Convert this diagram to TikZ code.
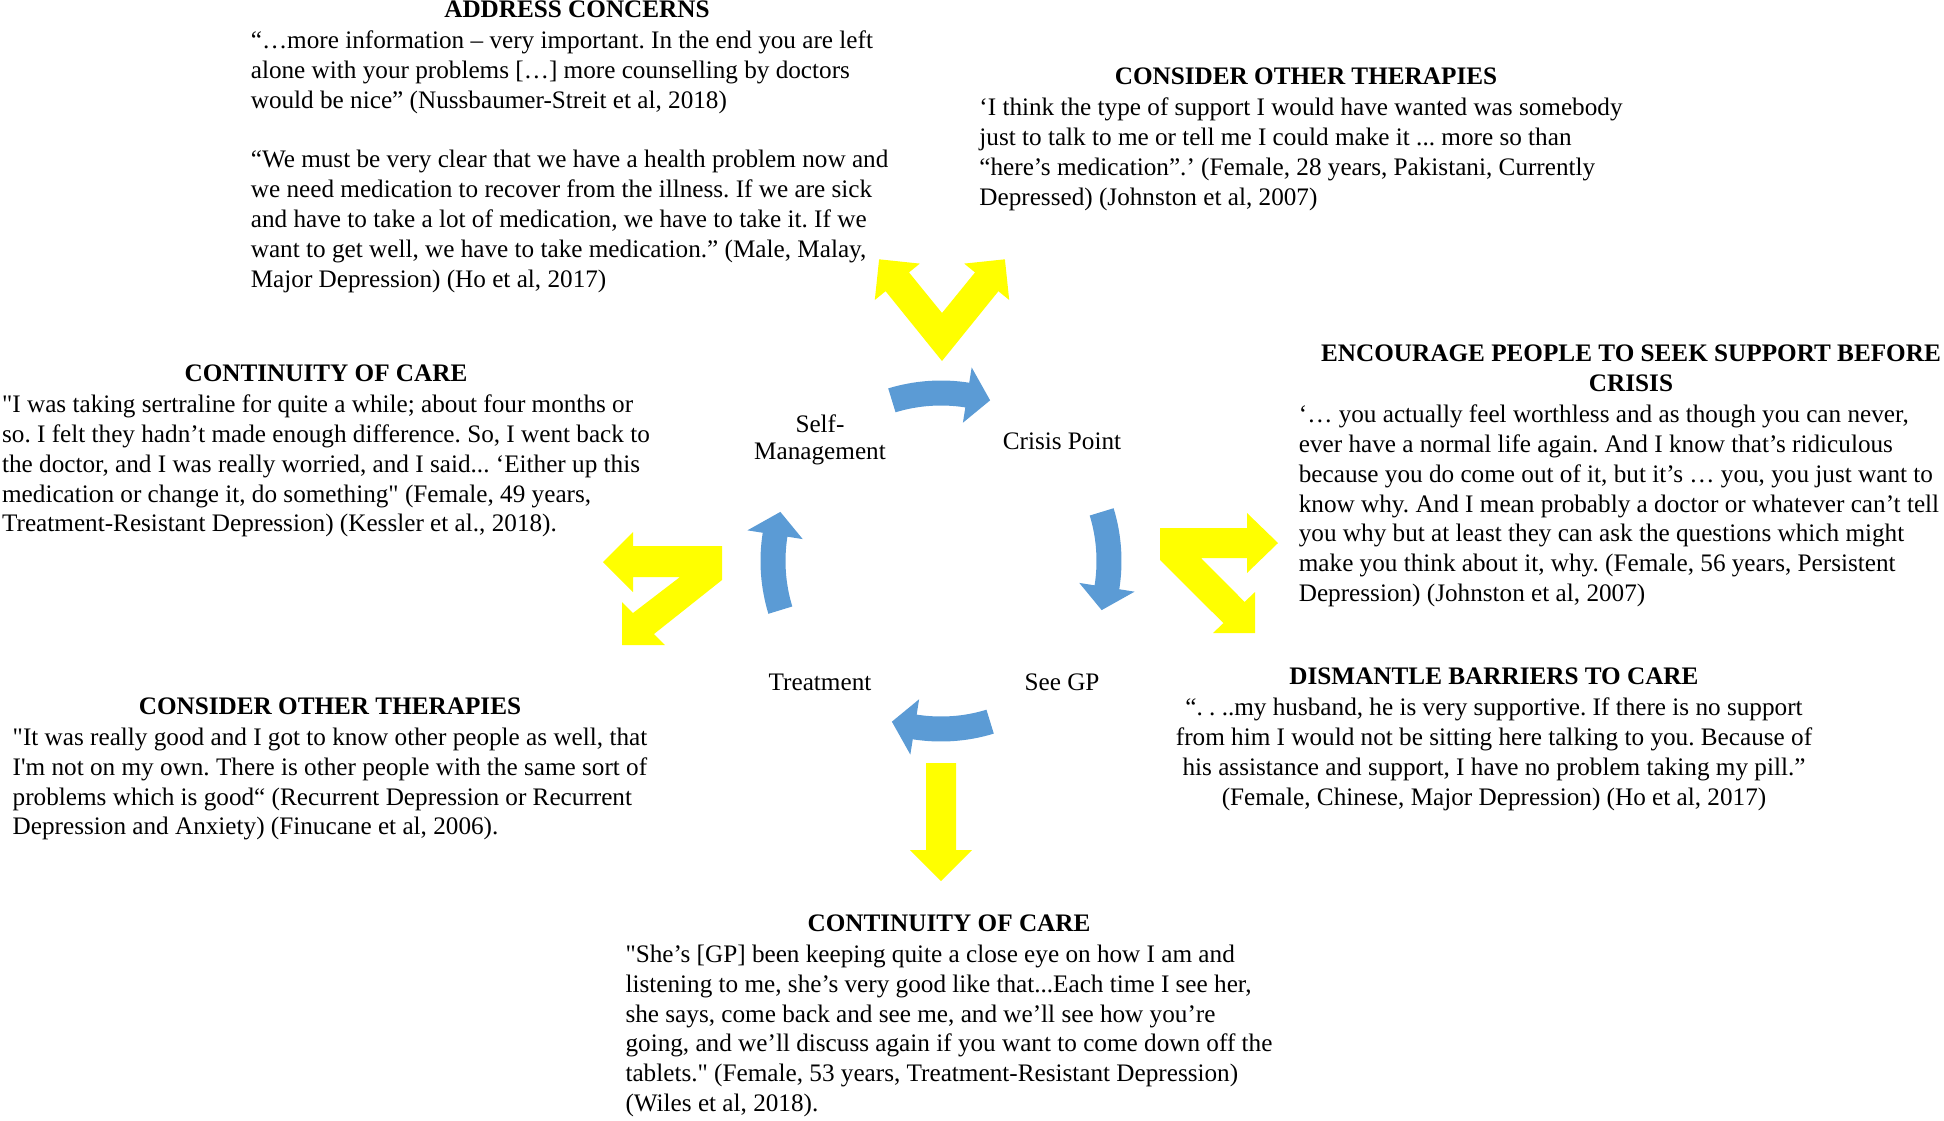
\documentclass[tikz,border=0pt]{standalone}
\usepackage{fontspec}
\setmainfont{Liberation Serif}
\usetikzlibrary{positioning,calc}
\definecolor{cycblue}{HTML}{5B9BD5}
\definecolor{hiyellow}{HTML}{FFFF00}
\frenchspacing

% curved block arrow of the cycle, #1 = angle of its middle
\newcommand{\cyclearrow}[1]{%
  \fill[cycblue]
    ($(hub)+({-(#1+17)}:180.5)$) arc[start angle={-(#1+17)}, end angle={-(#1-9)}, radius=180.5]
    -- ($(hub)+({-(#1-9)}:196)$)
    -- ($(hub)+({-(#1-17)}:168)$)
    -- ($(hub)+({-(#1-9)}:140)$)
    -- ($(hub)+({-(#1-9)}:155.5)$)
    arc[start angle={-(#1-9)}, end angle={-(#1+17)}, radius=155.5]
    -- cycle;}

\begin{document}
\begin{tikzpicture}[
        x=0.5pt, y=-0.5pt,
        node distance=6.3pt,
        every node/.style={font=\fontsize{12.6pt}{14.9pt}\selectfont, inner sep=0pt},
        heading/.style={font=\fontsize{12.6pt}{14.9pt}\selectfont\bfseries, align=center, anchor=south},
        quote/.style={align=left},
        stage/.style={align=center, font=\fontsize{12.6pt}{13.6pt}\selectfont},
        yarrow/.style={fill=hiyellow}
    ]
        \useasboundingbox (0,0) rectangle (1944,1120);

        % Cycle: stages and curved arrows
        \coordinate (hub) at (941,561);
        \node[stage] (self) at (820,440) {Self-\\Management};
        \node[stage] (crisis) at (1062,441) {Crisis Point};
        \node[stage] (gp) at (1062,682) {See GP};
        \node[stage] (treat) at (820,682) {Treatment};

        \cyclearrow{90}
        \cyclearrow{0}
        \cyclearrow{-90}
        \cyclearrow{180}

        % Yellow block arrows out of the cycle
        \fill[yarrow] (942,361) -- (885.6,291.2) -- (874.8,300) -- (879.1,259.3) -- (919.8,263.6) -- (909,272.4) -- (942,313)
            -- (975,272.4) -- (964.2,263.6) -- (1004.9,259.3) -- (1009.2,300) -- (998.4,291.2) -- cycle;
        \fill[yarrow] (1160,528) -- (1247,528) -- (1247,513) -- (1278,543) -- (1247,573) -- (1247,558) -- (1201,558)
            -- (1244.6,601.9) -- (1255,592) -- (1255,633) -- (1213,633) -- (1223.4,623.1) -- (1160,560) -- cycle;
        \fill[yarrow] (722,546) -- (633,546) -- (633,532) -- (603,562) -- (633,592) -- (633,577) -- (680,577)
            -- (633,613) -- (622,602) -- (622,645) -- (665,645) -- (654,634) -- (722,580) -- cycle;
        \fill[yarrow] (926,763) -- (956,763) -- (956,850) -- (972,850) -- (941,881) -- (910,850) -- (926,850) -- cycle;

        % Top left: address concerns
        \node[heading] (h1) at (577,18) {ADDRESS CONCERNS};
        \node[quote, below=of h1, xshift=-3.7pt] (q1) {“…more information – very important. In the end you are left\\
            alone with your problems […] more counselling by doctors\\
            would be nice” (Nussbaumer-Streit et al, 2018)\\[14.9pt]
            “We must be very clear that we have a health problem now and\\
            we need medication to recover from the illness. If we are sick\\
            and have to take a lot of medication, we have to take it. If we\\
            want to get well, we have to take medication.” (Male, Malay,\\
            Major Depression) (Ho et al, 2017)};

        % Top right: consider other therapies
        \node[heading] (h2) at (1306,85) {CONSIDER OTHER THERAPIES};
        \node[quote, below=of h2, xshift=-2.5pt] (q2) {‘I think the type of support I would have wanted was somebody\\
            just to talk to me or tell me I could make it ... more so than\\
            “here’s medication”.’ (Female, 28 years, Pakistani, Currently\\
            Depressed) (Johnston et al, 2007)};

        % Left: continuity of care
        \node[heading] (h3) at (326,382) {CONTINUITY OF CARE};
        \node[quote, below=of h3] (q3) {\textquotedbl I was taking sertraline for quite a while; about four months or\\
            so. I felt they hadn’t made enough difference. So, I went back to\\
            the doctor, and I was really worried, and I said... ‘Either up this\\
            medication or change it, do something\textquotedbl{} (Female, 49 years,\\
            Treatment-Resistant Depression) (Kessler et al., 2018).};

        % Right: encourage support before crisis
        \node[heading] (h4) at (1631,392) {ENCOURAGE PEOPLE TO SEEK SUPPORT BEFORE\\CRISIS};
        \node[quote, below=of h4, xshift=-6pt] (q4) {‘… you actually feel worthless and as though you can never,\\
            ever have a normal life again. And I know that’s ridiculous\\
            because you do come out of it, but it’s … you, you just want to\\
            know why. And I mean probably a doctor or whatever can’t tell\\
            you why but at least they can ask the questions which might\\
            make you think about it, why. (Female, 56 years, Persistent\\
            Depression) (Johnston et al, 2007)};

        % Bottom left: consider other therapies
        \node[heading] (h5) at (330,715) {CONSIDER OTHER THERAPIES};
        \node[quote, below=of h5] (q5) {\textquotedbl It was really good and I got to know other people as well, that\\
            I\textquotesingle m not on my own. There is other people with the same sort of\\
            problems which is good“ (Recurrent Depression or Recurrent\\
            Depression and Anxiety) (Finucane et al, 2006).};

        % Bottom right: dismantle barriers
        \node[heading] (h6) at (1494,685) {DISMANTLE BARRIERS TO CARE};
        \node[align=center, below=of h6] (q6) {“. . ..my husband, he is very supportive. If there is no support\\
            from him I would not be sitting here talking to you. Because of\\
            his assistance and support, I have no problem taking my pill.”\\
            (Female, Chinese, Major Depression) (Ho et al, 2017)};

        % Bottom: continuity of care
        \node[heading] (h7) at (949,932) {CONTINUITY OF CARE};
        \node[quote, below=of h7] (q7) {\textquotedbl She’s [GP] been keeping quite a close eye on how I am and\\
            listening to me, she’s very good like that...Each time I see her,\\
            she says, come back and see me, and we’ll see how you’re\\
            going, and we’ll discuss again if you want to come down off the\\
            tablets.\textquotedbl{} (Female, 53 years, Treatment-Resistant Depression)\\
            (Wiles et al, 2018).};

    \end{tikzpicture}
\end{document}
